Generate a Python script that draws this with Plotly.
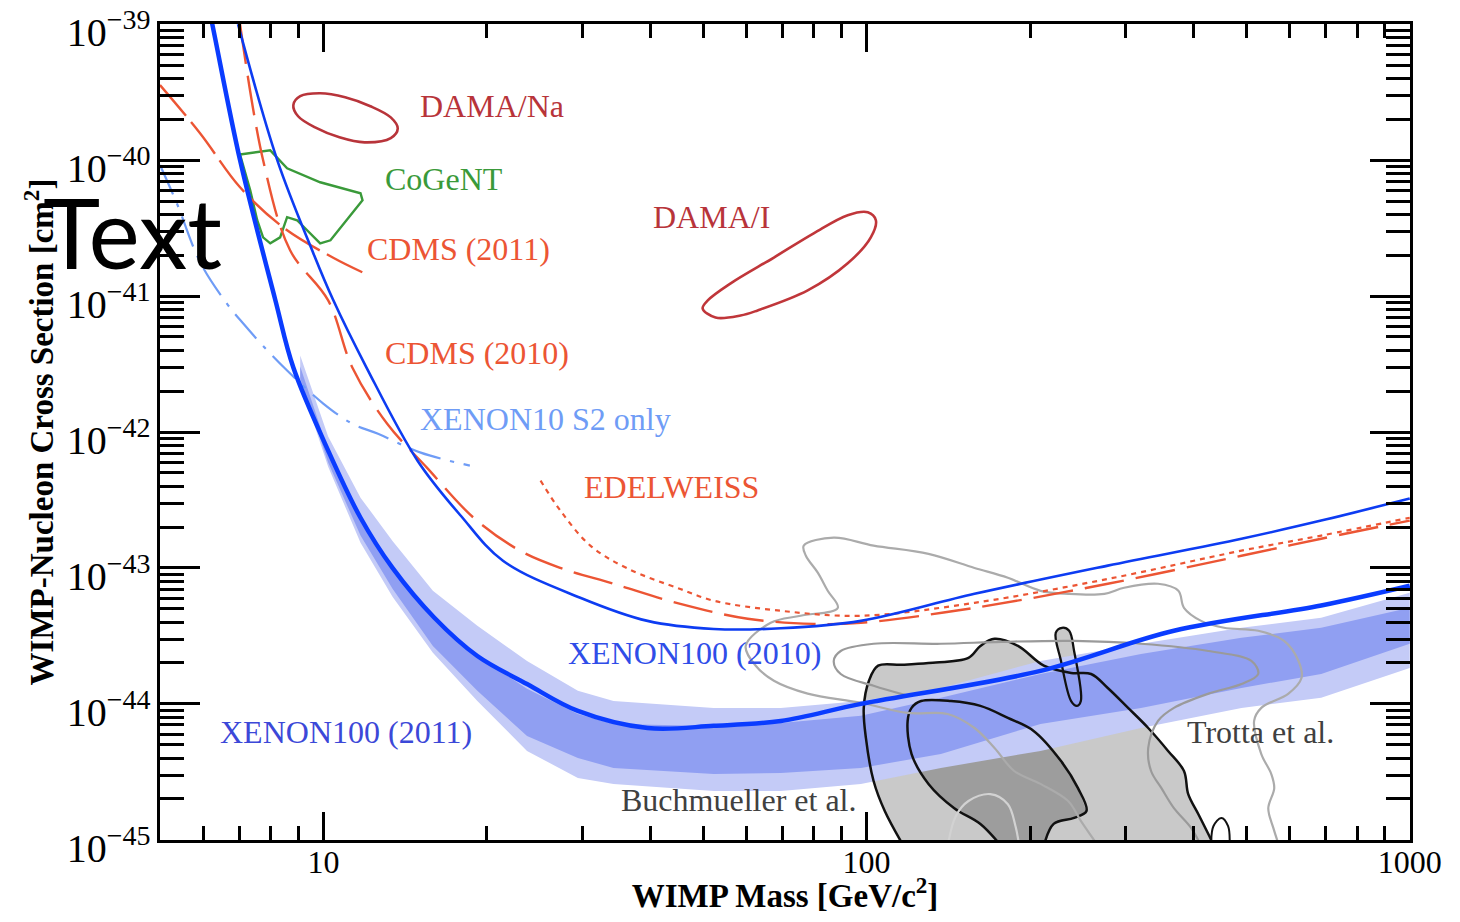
import plotly.graph_objects as go

# ---------------- data (WIMP mass in GeV, cross section in cm^2) ----------------
# XENON100 (2011) limit (thick blue)
xe11_mass = [6.0, 6.24, 7.02, 8.15, 8.80, 10.2, 11.7, 13.4, 16.0, 19.2, 23.7, 29.4, 39.5, 52.3, 69.5, 97.6, 209, 368, 687, 1000]
xe11_sigma = [2.1e-39, 1e-39, 1e-40, 9.4e-42, 2.98e-42, 7.30e-43, 2.34e-43, 1.00e-43, 4.30e-44, 2.25e-44, 1.40e-44, 8.88e-45,
              6.65e-45, 6.9e-45, 7.5e-45, 1.0e-44, 1.75e-44, 3.45e-44, 5.3e-44, 7.4e-44]

# XENON100 expected sensitivity bands
band_mass = [9.06, 10.2, 11.7, 13.4, 15.9, 19.2, 23.7, 29.4, 34.2, 52.3, 69.5, 97.6, 137, 209, 320, 490, 687, 1000]
band2_top = [3.66e-42, 9.25e-43, 3.29e-43, 1.58e-43, 6.79e-44, 3.75e-44, 2.07e-44, 1.25e-44, 1.05e-44, 9.35e-45, 9.35e-45,
             1.05e-44, 1.31e-44, 2.07e-44, 2.77e-44, 3.63e-44, 4.30e-44, 6.56e-44]
band1_top = [3.03e-42, 7.30e-43, 2.34e-43, 1.00e-43, 4.30e-44, 2.25e-44, 1.29e-44, 8.43e-45, 7.13e-45, 6.89e-45, 7.24e-45,
             8.17e-45, 1.11e-44, 1.66e-44, 2.33e-44, 3.06e-44, 3.63e-44, 5.09e-44]
band1_bot = [2.47e-42, 5.96e-43, 1.73e-43, 7.03e-44, 2.67e-44, 1.25e-44, 5.81e-45, 4.00e-45, 3.38e-45, 3.05e-45, 3.10e-45,
             3.38e-45, 4.28e-45, 7.13e-45, 9.35e-45, 1.31e-44, 1.66e-44, 2.77e-44]
band2_bot = [2.31e-42, 5.56e-43, 1.53e-43, 6.14e-44, 2.38e-44, 1.05e-44, 4.51e-45, 2.85e-45, 2.58e-45, 2.29e-45, 2.29e-45,
             2.58e-45, 3.38e-45, 4.51e-45, 6.65e-45, 9.35e-45, 1.11e-44, 1.84e-44]

# XENON100 (2010) limit (thin blue)
xe10_mass = [6.96, 8.22, 9.53, 10.4, 12.0, 14.9, 17.9, 21.4, 29.7, 39.5, 52.3, 69.5, 97.6, 158, 278, 490, 687, 1000]
xe10_sigma = [1e-39, 1e-40, 2.17e-41, 9.5e-42, 2.98e-42, 6.15e-43, 2.42e-43, 1.13e-43, 6.04e-44, 4.08e-44, 3.56e-44, 3.6e-44,
              4.08e-44, 6.45e-44, 1.04e-43, 1.64e-43, 2.23e-43, 3.24e-43]

# CDMS (2010)
cdms10_mass = [7.02, 7.74, 8.68, 10.2, 11.3, 13.1, 15.5, 18.9, 23.0, 27.3, 34.2, 45.4, 60.4, 79.9, 97.6, 158, 278, 490, 687, 1000]
cdms10_sigma = [1e-39, 1e-40, 2.17e-41, 9.29e-42, 2.98e-42, 1.15e-42, 5.47e-43, 2.34e-43, 1.34e-43, 1.00e-43, 7.65e-44,
                5.44e-44, 4.23e-44, 3.88e-44, 3.95e-44, 5.09e-44, 7.65e-44, 1.23e-43, 1.64e-43, 2.23e-43]

# EDELWEISS
edel_mass = [25.1, 27.3, 31.0, 36.3, 45.4, 52.3, 69.5, 97.6, 158, 278, 490, 687, 1000]
edel_sigma = [4.39e-43, 2.64e-43, 1.46e-43, 9.9e-44, 7.0e-44, 5.74e-44, 4.84e-44, 4.45e-44, 5.54e-44, 8.3e-44, 1.34e-43, 1.73e-43, 2.34e-43]

# CDMS (2011) low threshold
cdms11_mass = [5.0, 5.93, 7.02, 8.43, 10.4, 11.9]
cdms11_sigma = [3.56e-40, 1.57e-40, 6.31e-41, 3.2e-41, 1.92e-41, 1.47e-41]

# XENON10 S2 only
xe10s2_mass = [5.0, 5.37, 5.93, 6.64, 7.11, 7.88, 8.57, 9.99, 11.3, 12.6, 15.1, 18.6]
xe10s2_sigma = [9.2e-41, 4.81e-41, 1.77e-41, 8.8e-42, 6.3e-42, 3.98e-42, 2.83e-42, 1.62e-42, 1.15e-42, 9.7e-43, 7.05e-43, 5.66e-43]

# DAMA/Na contour
damana_mass = [8.80, 9.06, 9.86, 10.96, 12.2, 13.3, 13.7, 13.3, 11.9, 10.7, 9.65, 8.98, 8.80]
damana_sigma = [2.54e-40, 2.95e-40, 3.1e-40, 2.9e-40, 2.49e-40, 2.06e-40, 1.71e-40, 1.45e-40, 1.35e-40, 1.47e-40, 1.74e-40, 2.1e-40, 2.54e-40]

# DAMA/I contour
damai_mass = [49.9, 52.7, 58.6, 63.0, 77.9, 92.3, 101.8, 104, 100.5, 92.3, 79.9, 67.5, 56.2, 51.0, 49.9]
damai_sigma = [8.11e-42, 6.95e-42, 7.19e-42, 7.84e-42, 1.10e-41, 1.74e-41, 2.70e-41, 3.61e-41, 4.13e-41, 3.93e-41, 2.89e-41,
               1.92e-41, 1.24e-41, 9.29e-42, 8.11e-42]

# CoGeNT contour
cogent_mass = [7.02, 7.98, 8.57, 9.86, 11.7, 11.8, 10.3, 9.86, 8.94, 8.57, 8.32, 7.98, 7.74, 7.55, 7.33, 7.02]
cogent_sigma = [1.10e-40, 1.18e-40, 8.7e-41, 6.87e-41, 5.70e-41, 5.06e-41, 2.57e-41, 2.44e-41, 3.61e-41, 3.80e-41, 2.70e-41,
                2.44e-41, 2.7e-41, 3.61e-41, 6.0e-41, 1.10e-40]

# Buchmueller et al. (95% and 68% regions)
buch95_mass = [117, 108, 103, 99.7, 98.8, 101, 105, 116, 130, 154, 162, 172, 190, 212, 238, 259, 278, 303, 330, 359, 384, 391,
               408, 426, 431, 431, 117]
buch95_sigma = [9e-46, 1.63e-45, 2.71e-45, 5.62e-45, 9.35e-45, 1.48e-44, 1.91e-44, 1.94e-44, 2.00e-44, 2.18e-44, 2.67e-44,
                3.01e-44, 2.67e-44, 1.91e-44, 1.69e-44, 1.66e-44, 1.31e-44, 9.35e-45, 6.65e-45, 4.51e-45, 3.21e-45, 2.17e-45,
                1.55e-45, 1.10e-45, 1e-45, 9e-46, 9e-46]
buchfinger_mass = [223, 229, 236, 241, 248, 244, 238, 228, 223]
buchfinger_sigma = [3.34e-44, 3.63e-44, 3.45e-44, 2.45e-44, 1.05e-44, 9.67e-45, 1.05e-44, 2.07e-44, 3.34e-44]
buch68_mass = [177, 162, 145, 130, 121, 119, 121, 126, 143, 162, 182, 203, 228, 245, 254, 241, 221, 212, 177]
buch68_sigma = [9e-46, 1.31e-45, 1.71e-45, 2.58e-45, 4.28e-45, 7.50e-45, 9.35e-45, 1.05e-44, 1.05e-44, 9.67e-45, 7.89e-45,
                6.33e-45, 3.80e-45, 2.40e-45, 1.63e-45, 1.45e-45, 1.31e-45, 9e-46, 9e-46]
buchloop_mass = [431, 435, 450, 463, 466]
buchloop_sigma = [9e-46, 1.26e-45, 1.45e-45, 1.26e-45, 9e-46]

# Trotta et al. contours
trottaA_mass = [575, 561, 549, 563, 556, 533, 517, 533, 598, 632, 624, 587, 526, 455, 413, 384, 375, 344, 298, 274, 235, 209,
                182, 158, 130, 103, 87.0, 76.6, 77.3, 81.3, 84.8, 88.5, 75.6, 66.6, 59.9, 62.5, 67.5, 77.9, 97.6, 119, 141, 158,
                172, 187, 209, 235, 248, 267]
trottaA_sigma = [9e-46, 1.22e-45, 1.71e-45, 2.40e-45, 3.05e-45, 4.28e-45, 7.50e-45, 9.35e-45, 1.19e-44, 1.55e-44, 2.07e-44,
                 2.91e-44, 3.45e-44, 3.63e-44, 4.08e-44, 5.09e-44, 6.79e-44, 7.65e-44, 7.15e-44, 6.45e-44, 6.45e-44, 6.79e-44,
                 8.47e-44, 1.00e-43, 1.27e-43, 1.46e-43, 1.67e-43, 1.46e-43, 1.23e-43, 9.23e-44, 6.79e-44, 5.09e-44, 4.45e-44,
                 3.95e-44, 2.67e-44, 1.91e-44, 1.48e-44, 1.19e-44, 1.02e-44, 8.58e-45, 8.43e-45, 6.65e-45, 4.74e-45, 3.21e-45,
                 2.58e-45, 1.93e-45, 1.38e-45, 9e-46]
trottaB_mass = [413, 396, 368, 349, 334, 330, 344, 368, 426, 490, 526, 511, 426, 320, 241, 177, 137, 103, 89.6, 87.0, 89.6, 103, 118]
trottaB_sigma = [9e-46, 1.22e-45, 1.71e-45, 2.40e-45, 3.21e-45, 4.74e-45, 7.50e-45, 9.35e-45, 1.19e-44, 1.40e-44, 1.66e-44,
                 2.07e-44, 2.45e-44, 2.77e-44, 2.91e-44, 2.86e-44, 2.77e-44, 2.77e-44, 2.45e-44, 2.07e-44, 1.66e-44, 1.36e-44, 1.16e-44]
trottaC_mass = [141, 146, 154, 169, 182, 188, 191]
trottaC_sigma = [9e-46, 1.50e-45, 1.93e-45, 2.17e-45, 1.83e-45, 1.26e-45, 9e-46]

# labels: (text, colour, left x [paper], centre y [paper])
labels = [
    ("DAMA/Na", "#b8343a", 0.2064, 0.900),
    ("CoGeNT", "#3a9a3a", 0.1784, 0.810),
    ("DAMA/I", "#b8343a", 0.3928, 0.763),
    ("CDMS (2011)", "#ec5534", 0.1640, 0.724),
    ("CDMS (2010)", "#ec5534", 0.1784, 0.597),
    ("XENON10 S2 only", "#6f9cf6", 0.2064, 0.516),
    ("EDELWEISS", "#ec5534", 0.3376, 0.432),
    ("XENON100 (2010)", "#2f4de8", 0.3248, 0.229),
    ("XENON100 (2011)", "#3c48d8", 0.0464, 0.132),
    ("Buchmueller et al.", "#404040", 0.3672, 0.049),
    ("Trotta et al.", "#404040", 0.8200, 0.132),
]

fig = go.Figure()


def add_fill(x, y, color):
    fig.add_trace(go.Scatter(x=x, y=y, mode="lines", fill="toself", fillcolor=color,
                             line=dict(width=0), hoverinfo="skip", showlegend=False))


def add_line(x, y, color, width, dash=None, shape="linear"):
    fig.add_trace(go.Scatter(x=x, y=y, mode="lines",
                             line=dict(color=color, width=width, dash=dash, shape=shape),
                             hoverinfo="skip", showlegend=False))


# gray filled regions (Buchmueller)
add_fill(buch95_mass, buch95_sigma, "#c9c9c9")
add_fill(buchfinger_mass, buchfinger_sigma, "#c9c9c9")
add_fill(buch68_mass, buch68_sigma, "#9d9d9d")

# sensitivity bands
add_fill(band_mass + band_mass[::-1], band2_top + band2_bot[::-1], "#c4cbf7")
add_fill(band_mass + band_mass[::-1], band1_top + band1_bot[::-1], "#909ff2")

# Buchmueller outlines
add_line(buch95_mass[:-2], buch95_sigma[:-2], "#111111", 2.5, shape="spline")
add_line(buchfinger_mass, buchfinger_sigma, "#111111", 2.3, shape="spline")
add_line(buch68_mass[:-1], buch68_sigma[:-1], "#111111", 2.5, shape="spline")
add_line(buchloop_mass, buchloop_sigma, "#111111", 2.0, shape="spline")

# Trotta contours
add_line(trottaA_mass, trottaA_sigma, "#ababab", 2.2, shape="spline")
add_line(trottaB_mass, trottaB_sigma, "#9a9a9a", 2.2, shape="spline")
add_line(trottaC_mass, trottaC_sigma, "#d2d2d2", 2.2, shape="spline")

# signal claims
add_line(damana_mass, damana_sigma, "#b8343a", 2.6, shape="spline")
add_line(damai_mass, damai_sigma, "#c0363a", 2.6, shape="spline")
add_line(cogent_mass, cogent_sigma, "#3a9a3a", 2.4)

# other limits
add_line(cdms11_mass, cdms11_sigma, "#ec5534", 2.4, dash="40px,8px", shape="spline")
add_line(xe10s2_mass, xe10s2_sigma, "#6f9cf6", 2.2, dash="32px,10px,4px,10px", shape="spline")
add_line(edel_mass, edel_sigma, "#ec5534", 2.2, dash="5px,5px", shape="spline")
add_line(cdms10_mass, cdms10_sigma, "#ec5534", 2.4, dash="40px,12px", shape="spline")

# XENON100
add_line(xe10_mass, xe10_sigma, "#0d3cf2", 2.6, shape="spline")
add_line(xe11_mass, xe11_sigma, "#0a3cff", 4.5, shape="spline")

for text, color, x, y in labels:
    fig.add_annotation(text=text, x=x, y=y, xref="paper", yref="paper", xanchor="left", yanchor="middle",
                       showarrow=False, font=dict(family="Liberation Serif", size=32, color=color))

fig.add_annotation(text="Text", x=-0.095, y=0.746, xref="paper", yref="paper", xanchor="left", yanchor="middle",
                   showarrow=False, font=dict(family="Lato", size=97, color="black"))

axis_common = dict(
    type="log", showline=True, linewidth=3, linecolor="black", mirror="allticks",
    ticks="inside", tickwidth=2.5, tickcolor="black", showgrid=False, zeroline=False, automargin=False,
    ticklabeloverflow="allow",
    tickfont=dict(family="Liberation Serif", size=32, color="black"),
)

fig.update_xaxes(
    **axis_common, range=[0.69897, 3.0005], dtick=1, exponentformat="none", ticklen=28, ticklabelstandoff=-8,
    minor=dict(dtick="D1", ticks="inside", ticklen=14, tickwidth=2.5, tickcolor="black", showgrid=False),
    title=dict(text="WIMP Mass [GeV/c<sup>2</sup>]", standoff=14,
               font=dict(family="Liberation Serif", size=33, color="black", weight="bold")),
)
fig.update_yaxes(
    **axis_common, range=[-45.001, -38.999], dtick=1, exponentformat="power", ticklen=40, ticklabelshift=8,
    minor=dict(dtick="D1", ticks="inside", ticklen=24, tickwidth=2.5, tickcolor="black", showgrid=False),
    title=dict(text="WIMP-Nucleon Cross Section [cm<sup>2</sup>]", standoff=4,
               font=dict(family="Liberation Serif", size=33, color="black", weight="bold")),
)

# the page adds an 8px body margin, so the figure is sized to fit the 1460x922 window
fig.update_layout(
    width=1444, height=906,
    margin=dict(l=152, r=42, t=16, b=74),
    plot_bgcolor="white", paper_bgcolor="white",
    showlegend=False,
)

fig.write_html("out.html")
